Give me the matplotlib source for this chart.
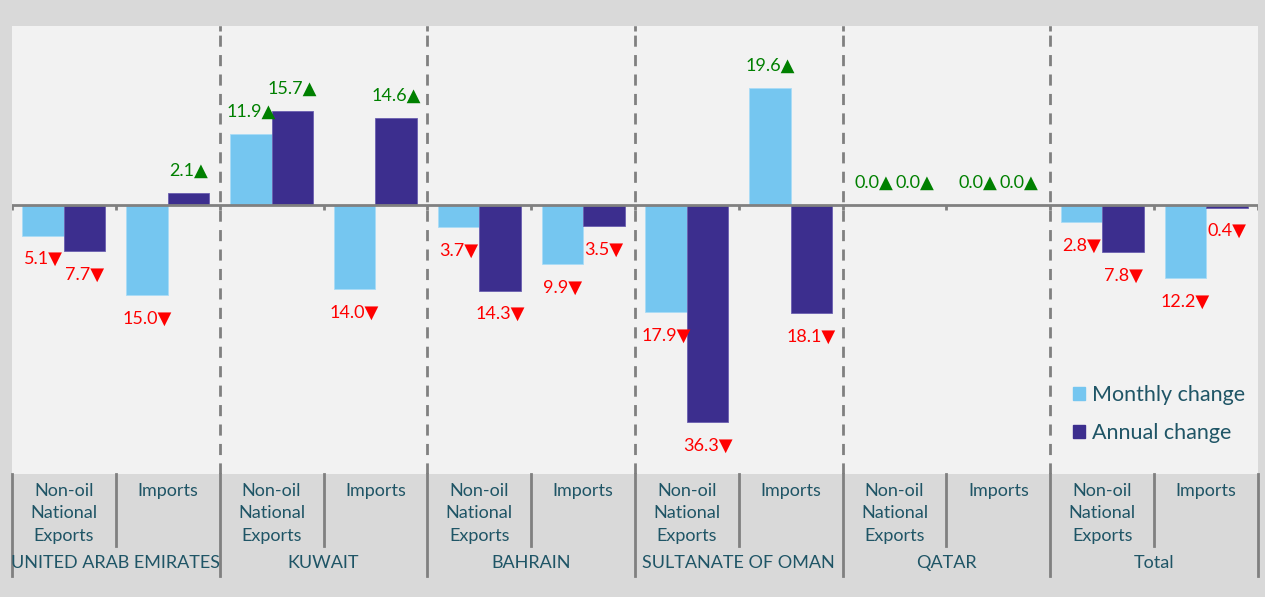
import numpy as np
import matplotlib.pyplot as plt
from matplotlib.transforms import blended_transform_factory
from matplotlib.patches import Patch

plt.rcParams['font.family'] = ['Lato', 'DejaVu Sans']

# Categories and values (%)
countries = ["UNITED ARAB EMIRATES", "KUWAIT", "BAHRAIN", "SULTANATE OF OMAN", "QATAR", "Total"]
flows = ["Non-oil\nNational\nExports", "Imports"]
monthly = [-5.1, -15.0, 11.9, -14.0, -3.7, -9.9, -17.9, 19.6, 0.0, 0.0, -2.8, -12.2]
annual = [-7.7, 2.1, 15.7, 14.6, -14.3, -3.5, -36.3, -18.1, 0.0, 0.0, -7.8, -0.4]

c_month = "#75C6F0"
c_year = "#3C2E8E"
txt = "#1F5566"
grid_c = "#808080"

fig = plt.figure(figsize=(12.65, 5.97), dpi=100, facecolor="#D9D9D9")
W, H = 1265, 597
ax = fig.add_axes([12 / W, (H - 474) / H, 1246 / W, 448 / H])
ax.set_facecolor("#F2F2F2")

x = np.arange(len(monthly))
ax.bar(x - 0.2, monthly, width=0.4, color=c_month, edgecolor="#A9DCF6", linewidth=0.6, zorder=3)
ax.bar(x + 0.2, annual, width=0.4, color=c_year, edgecolor="#6A5FB0", linewidth=0.6, zorder=3)

ax.set_xlim(-0.5, len(monthly) - 0.5)
ax.set_ylim(-45, 30)
for s in ax.spines.values():
    s.set_visible(False)
ax.set_xticks([])
ax.set_yticks([])

# zero line with small ticks at category boundaries
ax.axhline(0, color=grid_c, lw=2, zorder=4)
for b in np.arange(-0.5, len(monthly), 1.0):
    ax.plot([b, b], [0, -0.8], color=grid_c, lw=2, zorder=4, solid_capstyle="butt")

# dashed separators between countries
for b in np.arange(1.5, len(monthly) - 1, 2.0):
    ax.axvline(b, color=grid_c, lw=2, ls=(0, (4, 3)), zorder=2)
    ax.plot([b, b], [30, 29.2], color=grid_c, lw=2, zorder=4, solid_capstyle="butt")

# value labels with up/down arrows
def label(xc, v):
    if v >= 0:
        s, col, off = f"{abs(v):.1f}\u25B2", "#008000", 16
    else:
        s, col, off = f"{abs(v):.1f}\u25BC", "#FF0000", -17
    ax.annotate(s, (xc, v), xytext=(0, off), textcoords="offset points",
                ha="center", va="center", color=col, fontsize=13, zorder=5)

for i in x:
    label(i - 0.2, monthly[i])
    label(i + 0.2, annual[i])

# category axis below the plot
tr = blended_transform_factory(ax.transData, ax.transAxes)
for i in x:
    ax.text(i, -0.02, flows[i % 2], transform=tr, ha="center", va="top",
            fontsize=13, color=txt, linespacing=1.5)
for g, name in enumerate(countries):
    ax.text(2 * g + 0.5, -0.199, name, transform=tr, ha="center", va="center",
            fontsize=13, color=txt)
for b in np.arange(-0.5, len(monthly), 1.0):
    y0 = -0.228 if (b + 0.5) % 2 == 0 else -0.161
    ax.plot([b, b], [0, y0], transform=tr, color=grid_c, lw=2, clip_on=False)

handles = [Patch(color=c_month, label="Monthly change"),
           Patch(color=c_year, label="Annual change")]
leg = ax.legend(handles=handles, loc="lower right", bbox_to_anchor=(1.005, 0.025),
                frameon=False, fontsize=15.5, handlelength=0.55, handleheight=0.55,
                handletextpad=0.3, labelspacing=0.85)
for t in leg.get_texts():
    t.set_color(txt)

fig.savefig("out.png", dpi=100, facecolor=fig.get_facecolor())
